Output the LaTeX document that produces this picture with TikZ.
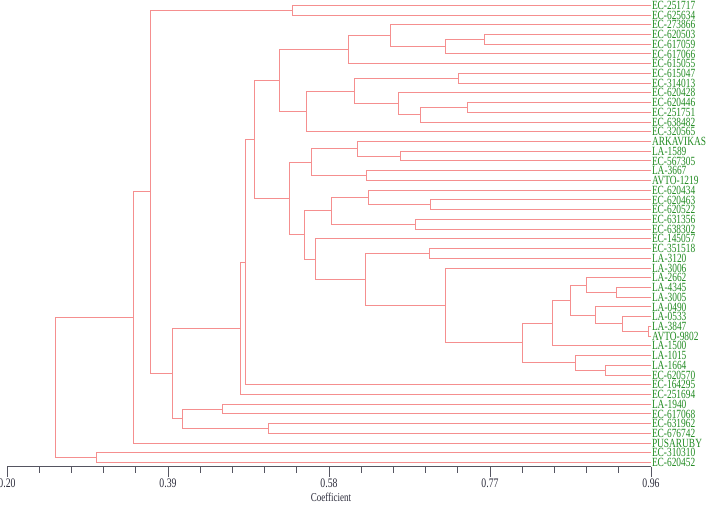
\documentclass[tikz,border=0pt]{standalone}
\usepackage{fontspec}
\setmainfont{Liberation Serif}[FakeStretch=0.75]
\usetikzlibrary{calc}
\definecolor{treePink}{HTML}{F58F8F}
\definecolor{leafGreen}{HTML}{208A20}
\definecolor{axisInk}{HTML}{2B2B3A}
\tikzset{
  branch/.style={draw=treePink, line width=1pt},
  leaf/.style={anchor=west, inner sep=0.8pt, yshift=-1.8pt, text=leafGreen, font=\fontsize{12.5}{12.5}\selectfont},
  tick/.style={text=axisInk, font=\fontsize{13}{13}\selectfont},
  axisline/.style={draw=axisInk!80, line width=0.8pt}
}
% merge two children at x = #2
\newcommand{\joinpair}[4]{%
  \path let \p1=(#3), \p2=(#4) in (#2pt,{0.5*\y1+0.5*\y2}) coordinate (#1);
  \draw[branch] (#3) -| (#1);
  \draw[branch] (#4) -| (#1);}

\begin{document}
\begin{tikzpicture}[x=1pt, y=-1pt]
  \useasboundingbox (0,0) rectangle (708,504);
  % leaves
  \foreach \name [count=\i] in {EC-251717,EC-625634,EC-273866,EC-620503,EC-617059,EC-617066,
      EC-615055,EC-615047,EC-314013,EC-620428,EC-620446,EC-251751,EC-638482,EC-320565,
      ARKAVIKAS,LA-1589,EC-567305,LA-3667,AVTO-1219,EC-620434,EC-620463,EC-620522,
      EC-631356,EC-638302,EC-145057,EC-351518,LA-3120,LA-3006,LA-2662,LA-4345,LA-3005,
      LA-0490,LA-0533,LA-3847,AVTO-9802,LA-1500,LA-1015,LA-1664,EC-620570,EC-164295,
      EC-251694,LA-1940,EC-617068,EC-631962,EC-676742,PUSARUBY,EC-310310,EC-620452}
    \node[leaf] (l\i) at (651,{3.5+(\i-1)*9.73}) {\name};

  % top group
  \joinpair{m12}{292.7}{l1.west}{l2.west}
  \joinpair{m45}{484.3}{l4.west}{l5.west}
  \joinpair{m46}{445}{m45}{l6.west}
  \joinpair{m36}{390.7}{l3.west}{m46}
  \joinpair{mA}{348.3}{m36}{l7.west}
  \joinpair{m89}{458}{l8.west}{l9.west}
  \joinpair{m1112}{467.7}{l11.west}{l12.west}
  \joinpair{m1113}{420.7}{m1112}{l13.west}
  \joinpair{m1013}{398.3}{l10.west}{m1113}
  \joinpair{m813}{354.3}{m89}{m1013}
  \joinpair{mB}{306}{m813}{l14.west}
  \joinpair{mAB}{279}{mA}{mB}

  % middle group
  \joinpair{m1617}{400.3}{l16.west}{l17.west}
  \joinpair{m1517}{357.7}{l15.west}{m1617}
  \joinpair{m1819}{366}{l18.west}{l19.west}
  \joinpair{m1519}{311.7}{m1517}{m1819}
  \joinpair{m2122}{430.7}{l21.west}{l22.west}
  \joinpair{m2022}{368.3}{l20.west}{m2122}
  \joinpair{m2324}{415}{l23.west}{l24.west}
  \joinpair{m2024}{331}{m2022}{m2324}

  % LA group
  \joinpair{m3031}{616.7}{l30.west}{l31.west}
  \joinpair{m2931}{586.7}{l29.west}{m3031}
  \joinpair{m3435}{648}{l34.west}{l35.west}
  \joinpair{m3335}{622}{l33.west}{m3435}
  \joinpair{m3235}{595}{l32.west}{m3335}
  \joinpair{m2935}{570}{m2931}{m3235}
  \joinpair{m2936}{552}{m2935}{l36.west}
  \joinpair{m3839}{605}{l38.west}{l39.west}
  \joinpair{m3739}{575}{l37.west}{m3839}
  \joinpair{m2939}{522}{m2936}{m3739}
  \joinpair{m2839}{445}{l28.west}{m2939}
  \joinpair{m2627}{429}{l26.west}{l27.west}
  \joinpair{m2639}{365}{m2627}{m2839}
  \joinpair{m2539}{315.7}{l25.west}{m2639}
  \joinpair{m2039}{304.3}{m2024}{m2539}
  \joinpair{mC}{289}{m1519}{m2039}

  % joining up
  \joinpair{m314}{254.3}{mAB}{mC}
  \joinpair{m340}{245.7}{m314}{l40.west}
  \joinpair{m341}{240}{m340}{l41.west}
  \joinpair{m4445}{268}{l44.west}{l45.west}
  \joinpair{m4243}{222}{l42.west}{l43.west}
  \joinpair{m4245}{182}{m4243}{m4445}
  \joinpair{m345}{172}{m341}{m4245}
  \joinpair{m145}{150}{m12}{m345}
  \joinpair{m146}{133}{m145}{l46.west}
  \joinpair{m4748}{96.7}{l47.west}{l48.west}
  \joinpair{root}{55}{m146}{m4748}

  % axis
  \draw[axisline] (7,466.7) -- (651,466.7);
  \foreach \k in {0,...,20}
    \draw[axisline] ({7+\k*32.2},466.7) -- ++(0,6.5);
  \foreach \k/\lab in {0/0.20,5/0.39,10/0.58,15/0.77,20/0.96} {
    \draw[axisline] ({7+\k*32.2},466.7) -- ++(0,10);
    \node[tick] at ({7+\k*32.2},483.5) {\lab};
  }
  \node[tick, font=\fontsize{12}{12}\selectfont] (coef) at (331,497) {Coefficient};
\end{tikzpicture}
\end{document}
